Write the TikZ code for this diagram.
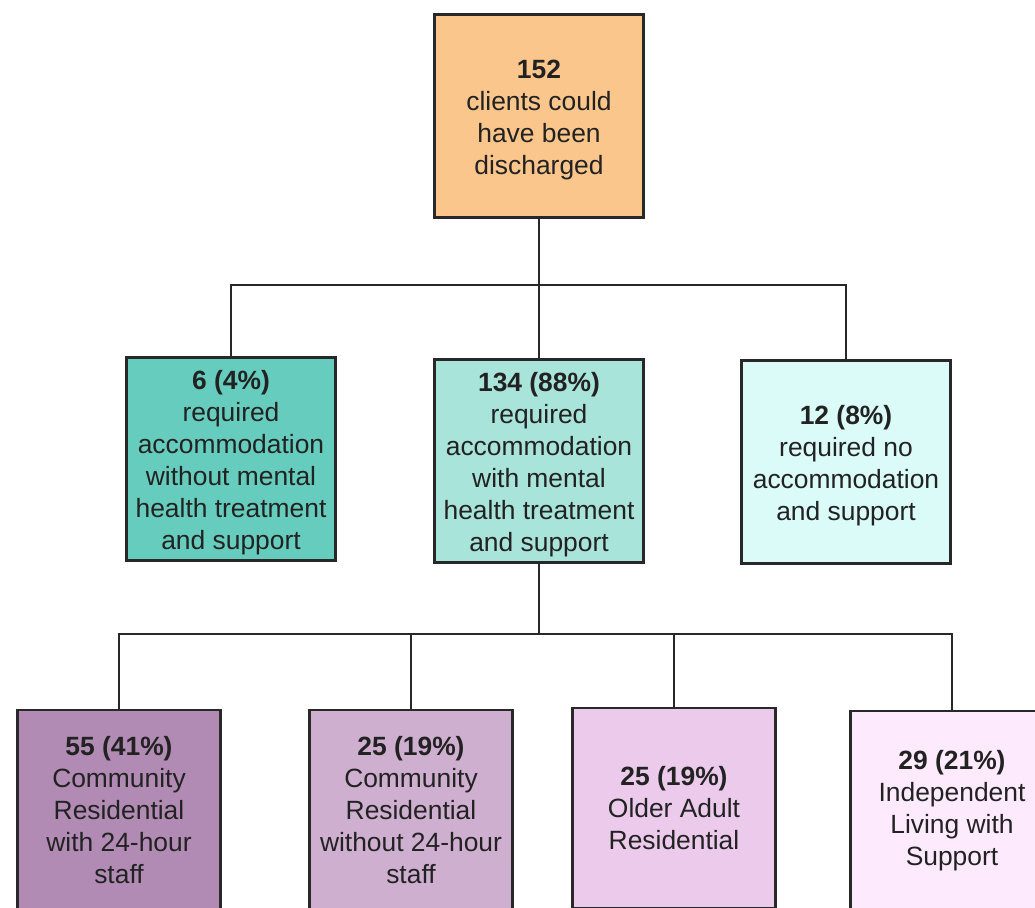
\documentclass[tikz,border=0pt]{standalone}
\usepackage{fontspec}
\setmainfont{Liberation Sans}
\definecolor{boxline}{RGB}{40,40,40}
\definecolor{txt}{RGB}{34,34,34}
\definecolor{orangebox}{RGB}{250,198,140}
\definecolor{tealA}{RGB}{102,204,189}
\definecolor{tealB}{RGB}{168,228,218}
\definecolor{tealC}{RGB}{218,251,248}
\definecolor{plumA}{RGB}{177,139,180}
\definecolor{plumB}{RGB}{207,175,208}
\definecolor{plumC}{RGB}{235,202,235}
\definecolor{plumD}{RGB}{253,234,253}
\newcommand\headnum[1]{\rule{0pt}{19.5pt}\textbf{#1}}
\tikzset{
  box/.style={draw=boxline, line width=1.9pt, text=txt, align=center, inner sep=0pt,
    minimum width=157pt, minimum height=152pt,
    font=\fontsize{19.8}{24}\selectfont},
  leafbox/.style={box, minimum width=152pt, minimum height=150pt},
  link/.style={draw=boxline, line width=1.5pt}
}
\begin{document}
\begin{tikzpicture}[x=0.75pt,y=0.75pt,yscale=-1,xscale=1]
	\clip (0,0) rectangle (1035,907);
	\fill[white] (0,0) rectangle (1035,907);
	% top
	\node[box, fill=orangebox] (top) at (539,116) {\headnum{152}\\clients could\\have been\\discharged};
	% second row
	\node[box, fill=tealA] (lft) at (231,459) {\headnum{6 (4\%)}\\required\\accommodation\\without mental\\health treatment\\and support};
	\node[box, fill=tealB] (mid) at (539,461) {\headnum{134 (88\%)}\\required\\accommodation\\with mental\\health treatment\\and support};
	\node[box, fill=tealC] (rgt) at (846,462) {\headnum{12 (8\%)}\\required no\\accommodation\\and support};
	% third row
	\node[leafbox, fill=plumA] (resA) at (119,810) {\textbf{55 (41\%)}\\Community\\Residential\\with 24-hour\\staff};
	\node[leafbox, fill=plumB] (resB) at (411,810) {\textbf{25 (19\%)}\\Community\\Residential\\without 24-hour\\staff};
	\node[leafbox, fill=plumC] (older) at (674,808) {\textbf{25 (19\%)}\\Older Adult\\Residential};
	\node[leafbox, fill=plumD] (indep) at (952,811) {\textbf{29 (21\%)}\\Independent\\Living with\\Support};
	% connectors
	\coordinate (busA) at (539,285);
	\coordinate (busB) at (539,634);
	\draw[link] (top.south) -- (mid.north);
	\draw[link] (lft.north) |- (busA) -| (rgt.north);
	\draw[link] (mid.south) -- (busB);
	\draw[link] (resA.north) |- (busB) -| (indep.north);
	\draw[link] (resB.north) -- (resB.north |- busB);
	\draw[link] (older.north) -- (older.north |- busB);
\end{tikzpicture}
\end{document}
